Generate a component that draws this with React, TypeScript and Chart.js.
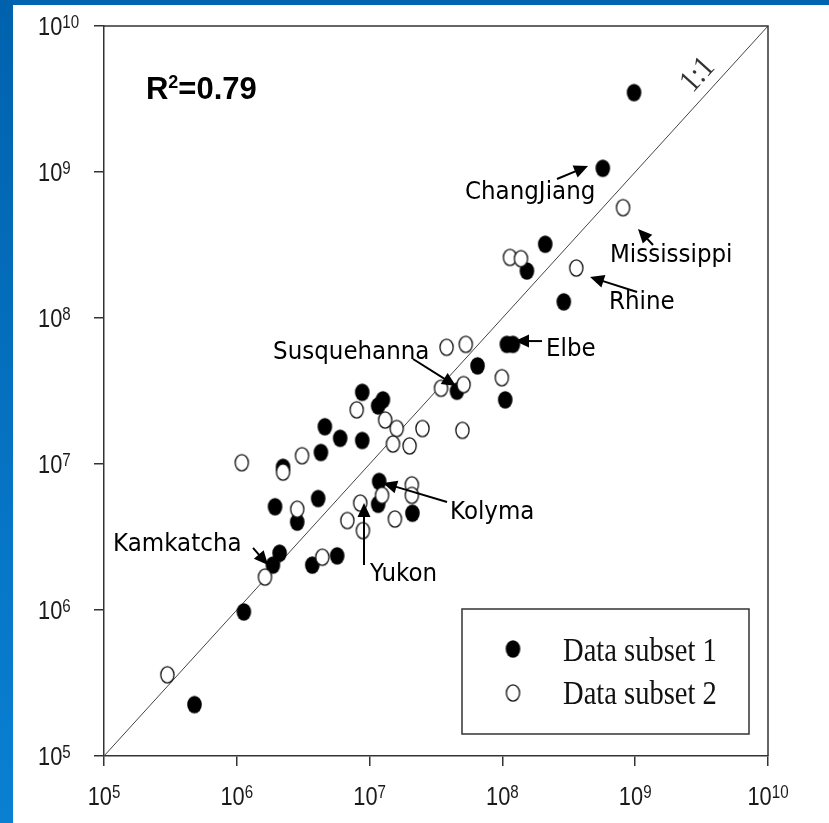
import React, { useEffect, useRef } from 'react';
import { Chart, registerables } from 'chart.js';

Chart.register(...registerables);

// ---------- data ----------
const TICK_EXPONENTS = [5, 6, 7, 8, 9, 10];
const AXIS_MIN = 1e5;
const AXIS_MAX = 1e10;
const ONE_TO_ONE = [1e5, 1e10];
const SERIES_LABELS = ['Data subset 1', 'Data subset 2'];
const R2_VALUE = '0.79';

const SUBSET1_X = [9.8e8, 5.7e8, 2.1e8, 1.53e8, 2.9e8, 1.08e8, 1.2e8, 6.5e7, 1.05e8, 4.55e7, 8.8e6, 1.16e7, 1.26e7, 4.6e6, 6.0e6, 8.8e6, 4.3e6, 2.23e6, 1.94e6, 4.1e6, 2.85e6, 2.1e6, 1.87e6, 3.7e6, 5.7e6, 1.18e7, 1.16e7, 2.1e7, 1.13e6, 4.8e5];
const SUBSET1_Y = [3.5e9, 1.06e9, 3.2e8, 2.1e8, 1.29e8, 6.6e7, 6.6e7, 4.7e7, 2.75e7, 3.15e7, 3.1e7, 2.5e7, 2.75e7, 1.8e7, 1.5e7, 1.45e7, 1.2e7, 9.5e6, 5.1e6, 5.8e6, 4.0e6, 2.45e6, 2.03e6, 2.03e6, 2.35e6, 7.6e6, 5.3e6, 4.6e6, 9.7e5, 2.25e5];

const SUBSET2_X = [8.1e8, 1.14e8, 1.38e8, 3.6e8, 3.8e7, 5.3e7, 3.45e7, 5.1e7, 9.9e7, 8.0e6, 1.31e7, 1.6e7, 2.5e7, 5.0e7, 1.5e7, 2.0e7, 1.09e6, 3.1e6, 2.23e6, 2.85e6, 1.63e6, 4.4e6, 6.8e6, 8.5e6, 1.24e7, 2.08e7, 2.08e7, 1.55e7, 8.9e6, 3.0e5];
const SUBSET2_Y = [5.7e8, 2.6e8, 2.55e8, 2.2e8, 6.3e7, 6.6e7, 3.3e7, 3.5e7, 3.9e7, 2.35e7, 2.0e7, 1.75e7, 1.75e7, 1.7e7, 1.37e7, 1.33e7, 1.02e7, 1.14e7, 8.8e6, 4.9e6, 1.68e6, 2.3e6, 4.1e6, 5.4e6, 6.1e6, 7.2e6, 6.1e6, 4.2e6, 3.5e6, 3.6e5];

const ANNOTATION_LABELS = ['ChangJiang', 'Mississippi', 'Rhine', 'Elbe', 'Susquehanna', 'Kolyma', 'Yukon', 'Kamkatcha'];

// ---------- layout (log10 positions in data space) ----------
const ANNOTATION_LAYOUT = [
  { text: [7.718, 8.863], from: [8.411, 8.952], to: [8.645, 9.041] },
  { text: [8.81, 8.425], from: [9.134, 8.5], to: [9.021, 8.61] },
  { text: [8.803, 8.103], from: [9.014, 8.178], to: [8.66, 8.281] },
  { text: [8.328, 7.781], from: [8.298, 7.842], to: [8.095, 7.842] },
  { text: [6.273, 7.767], from: [7.327, 7.719], to: [7.651, 7.534] },
  { text: [7.605, 6.671], from: [7.583, 6.74], to: [7.101, 6.87] },
  { text: [7.003, 6.24], from: [6.958, 6.308], to: [6.958, 6.733] },
  { text: [5.068, 6.452], from: [6.122, 6.425], to: [6.235, 6.308] },
];

function makeMarker(filled: boolean): HTMLCanvasElement {
  const c = document.createElement('canvas');
  c.width = 17;
  c.height = 20;
  const g = c.getContext('2d')!;
  g.beginPath();
  if (filled) {
    g.ellipse(8.5, 10, 7.3, 8.8, 0, 0, Math.PI * 2);
    g.fillStyle = '#000';
    g.fill();
  } else {
    g.ellipse(8.5, 10, 6.6, 8.1, 0, 0, Math.PI * 2);
    g.fillStyle = '#fff';
    g.fill();
    g.lineWidth = 1.3;
    g.strokeStyle = '#111';
    g.stroke();
  }
  return c;
}

function drawScaledText(ctx: CanvasRenderingContext2D, text: string, x: number, y: number, font: string, sx: number, align: CanvasTextAlign = 'left', baseline: CanvasTextBaseline = 'alphabetic') {
  ctx.save();
  ctx.translate(x, y);
  ctx.scale(sx, 1);
  ctx.font = font;
  ctx.textAlign = align;
  ctx.textBaseline = baseline;
  ctx.fillText(text, 0, 0);
  ctx.restore();
}

function textWidth(ctx: CanvasRenderingContext2D, text: string, font: string, sx: number) {
  ctx.save();
  ctx.font = font;
  const w = ctx.measureText(text).width * sx;
  ctx.restore();
  return w;
}

export default function App() {
  const ref = useRef<HTMLCanvasElement | null>(null);

  useEffect(() => {
    const canvas = ref.current;
    if (!canvas) return;
    const filledImg = makeMarker(true);
    const openImg = makeMarker(false);

    const overlay = {
      id: 'overlay',
      afterDraw(chart: any) {
        const ctx: CanvasRenderingContext2D = chart.ctx;
        const xs = chart.scales.x;
        const ys = chart.scales.y;
        const ca = chart.chartArea;
        const px = (e: number) => xs.getPixelForValue(Math.pow(10, e));
        const py = (e: number) => ys.getPixelForValue(Math.pow(10, e));

        ctx.save();
        // frame top & right
        ctx.strokeStyle = '#333';
        ctx.lineWidth = 1.5;
        ctx.beginPath();
        ctx.moveTo(ca.left, ca.top);
        ctx.lineTo(ca.right, ca.top);
        ctx.lineTo(ca.right, ca.bottom);
        ctx.stroke();

        // tick labels
        ctx.fillStyle = '#1a1a1a';
        const mainFont = '26px "Liberation Sans", Arial, sans-serif';
        const supFont = '18px "Liberation Sans", Arial, sans-serif';
        const sx = 0.84;
        TICK_EXPONENTS.forEach((e) => {
          const exp = String(e);
          const w1 = textWidth(ctx, '10', mainFont, sx);
          const w2 = textWidth(ctx, exp, supFont, sx);
          // y axis
          const yy = ys.getPixelForValue(Math.pow(10, e));
          const xl = 38;
          drawScaledText(ctx, '10', xl, yy + 9.3, mainFont, sx);
          drawScaledText(ctx, exp, xl + w1, yy + 2.3, supFont, sx);
          // x axis
          const xx = xs.getPixelForValue(Math.pow(10, e));
          const start = xx - (w1 + w2) / 2;
          drawScaledText(ctx, '10', start, ca.bottom + 49, mainFont, sx);
          drawScaledText(ctx, exp, start + w1, ca.bottom + 42, supFont, sx);
        });

        // R^2 label
        ctx.fillStyle = '#000';
        const rFont = 'bold 31px "Liberation Sans", Arial, sans-serif';
        const rSup = 'bold 18px "Liberation Sans", Arial, sans-serif';
        const rx = px(5.316);
        const ry = py(9.5);
        drawScaledText(ctx, 'R', rx, ry, rFont, 1);
        const wR = textWidth(ctx, 'R', rFont, 1);
        drawScaledText(ctx, '2', rx + wR, ry - 11, rSup, 1);
        const w2s = textWidth(ctx, '2', rSup, 1);
        drawScaledText(ctx, '=' + R2_VALUE, rx + wR + w2s, ry, rFont, 1);

        // 1:1 label
        const lx = px(9.473);
        const ly = py(9.664);
        const ang = Math.atan2(py(10) - py(5), px(10) - px(5));
        ctx.save();
        ctx.translate(lx, ly);
        ctx.rotate(ang);
        ctx.scale(0.84, 1);
        ctx.font = '32px "Liberation Serif", "Times New Roman", serif';
        ctx.fillStyle = '#333';
        ctx.textAlign = 'center';
        ctx.textBaseline = 'middle';
        ctx.fillText('1:1', 0, 0);
        ctx.restore();

        // annotations
        const annFont = '25px "DejaVu Sans", sans-serif';
        ANNOTATION_LABELS.forEach((label, i) => {
          const a = ANNOTATION_LAYOUT[i];
          ctx.fillStyle = '#000';
          drawScaledText(ctx, label, px(a.text[0]), py(a.text[1]), annFont, 0.92, 'left', 'middle');
          const x0 = px(a.from[0]);
          const y0 = py(a.from[1]);
          const x1 = px(a.to[0]);
          const y1 = py(a.to[1]);
          const th = Math.atan2(y1 - y0, x1 - x0);
          const hl = 14;
          const hw = 6.5;
          ctx.strokeStyle = '#000';
          ctx.lineWidth = 2;
          ctx.beginPath();
          ctx.moveTo(x0, y0);
          ctx.lineTo(x1 - Math.cos(th) * hl * 0.8, y1 - Math.sin(th) * hl * 0.8);
          ctx.stroke();
          ctx.beginPath();
          ctx.moveTo(x1, y1);
          ctx.lineTo(x1 - Math.cos(th) * hl - Math.sin(th) * hw, y1 - Math.sin(th) * hl + Math.cos(th) * hw);
          ctx.lineTo(x1 - Math.cos(th) * hl + Math.sin(th) * hw, y1 - Math.sin(th) * hl - Math.cos(th) * hw);
          ctx.closePath();
          ctx.fillStyle = '#000';
          ctx.fill();
        });

        // legend
        const bx = ca.right - 306;
        const by = ca.bottom - 147;
        const bw = 287;
        const bh = 125;
        ctx.strokeStyle = '#333';
        ctx.lineWidth = 1.5;
        ctx.strokeRect(bx, by, bw, bh);
        const legFont = '34px "Liberation Serif", "Times New Roman", serif';
        const imgs = [filledImg, openImg];
        SERIES_LABELS.forEach((label, i) => {
          const cy = by + 40 + i * 44;
          const img = imgs[i];
          ctx.drawImage(img, bx + 51 - img.width / 2, cy - img.height / 2);
          ctx.fillStyle = '#111';
          drawScaledText(ctx, label, bx + 101, cy + 12 - i * 1, legFont, 0.84);
        });
        ctx.restore();
      },
    };

    const tickFilter = (s: any) => {
      s.ticks = TICK_EXPONENTS.map((e) => ({ value: Math.pow(10, e) }));
    };

    const chart = new Chart(canvas, {
      type: 'scatter',
      data: {
        datasets: [
          {
            label: '1:1',
            data: ONE_TO_ONE.map((v) => ({ x: v, y: v })),
            showLine: true,
            borderColor: '#444',
            borderWidth: 1,
            pointRadius: 0,
            order: 3,
          } as any,
          {
            label: SERIES_LABELS[0],
            data: SUBSET1_X.map((x, i) => ({ x, y: SUBSET1_Y[i] })),
            pointStyle: filledImg,
            pointRadius: 9,
            order: 2,
          } as any,
          {
            label: SERIES_LABELS[1],
            data: SUBSET2_X.map((x, i) => ({ x, y: SUBSET2_Y[i] })),
            pointStyle: openImg,
            pointRadius: 9,
            order: 1,
          } as any,
        ],
      },
      options: {
        animation: false,
        responsive: false,
        layout: { padding: { top: 26, right: 61, left: 0, bottom: 0 } },
        plugins: { legend: { display: false }, tooltip: { enabled: false } },
        scales: {
          x: {
            type: 'logarithmic',
            min: AXIS_MIN,
            max: AXIS_MAX,
            afterBuildTicks: tickFilter,
            afterFit: (s: any) => { s.height = 67; },
            ticks: { display: false },
            grid: { drawOnChartArea: false, drawTicks: true, tickLength: 10, color: '#333', lineWidth: 1.5 },
            border: { display: true, color: '#333', width: 1.5 },
          },
          y: {
            type: 'logarithmic',
            min: AXIS_MIN,
            max: AXIS_MAX,
            afterBuildTicks: tickFilter,
            afterFit: (s: any) => { s.width = 104; },
            ticks: { display: false },
            grid: { drawOnChartArea: false, drawTicks: true, tickLength: 10, color: '#333', lineWidth: 1.5 },
            border: { display: true, color: '#333', width: 1.5 },
          },
        },
      } as any,
      plugins: [overlay],
    });
    return () => chart.destroy();
  }, []);

  return (
    <div style={{ position: 'fixed', left: 0, top: 0, width: 829, height: 823, background: '#fff', overflow: 'hidden' }}>
      <canvas ref={ref} width={829} height={823} style={{ position: 'absolute', left: 0, top: 0, width: 829, height: 823 }} />
      <div style={{ position: 'absolute', left: 0, top: 0, width: 829, height: 5, background: '#0064b0' }} />
      <div style={{ position: 'absolute', left: 0, top: 0, width: 13, height: 823, background: 'linear-gradient(#0062ad, #0a80d3)' }} />
    </div>
  );
}
